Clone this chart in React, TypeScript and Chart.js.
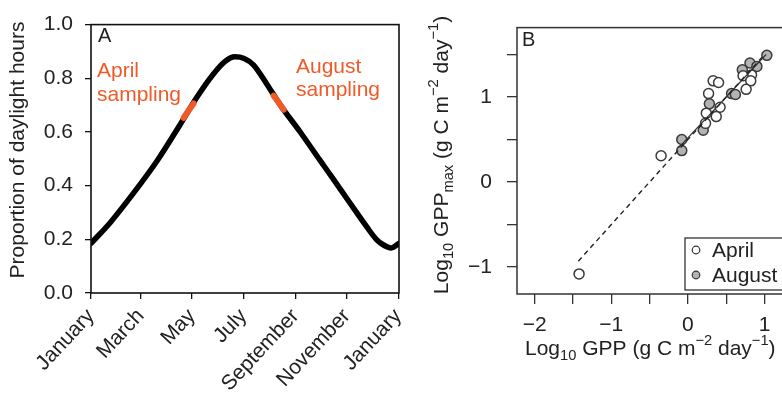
import React, { useEffect, useRef } from 'react';
import { Chart, registerables } from 'chart.js';

Chart.register(...registerables);

const FONT = '"Liberation Sans", Arial, Helvetica, sans-serif';
const ORANGE = '#F05A28';

// ---------- Panel A data ----------
const dayOfYear = [1, 24, 51, 79, 107, 127, 146, 160, 172, 183, 194, 210, 226, 250, 273, 289, 301, 313, 329, 340, 347, 353, 358, 367];
const daylightProportion = [0.185, 0.263, 0.37, 0.49, 0.628, 0.73, 0.814, 0.862, 0.88, 0.874, 0.85, 0.778, 0.7, 0.598, 0.495, 0.424, 0.37, 0.316, 0.245, 0.2, 0.182, 0.172, 0.168, 0.185];
const aprilSamplingDays = [111, 117, 123];
const aprilSamplingValues = [0.652, 0.68, 0.706];
const augustSamplingDays = [218, 224, 230];
const augustSamplingValues = [0.735, 0.71, 0.683];
const monthTickDays = [1, 60, 121, 182, 244, 305, 366];
const monthTickLabels = ['January', 'March', 'May', 'July', 'September', 'November', 'January'];
const yTicksA = [0, 0.2, 0.4, 0.6, 0.8, 1.0];

// ---------- Panel B data ----------
const aprilGPP = [-1.42, -0.35, 0.33, 0.4, 0.27, 0.42, 0.24, 0.37, 0.23, 0.83, 0.72, 0.82, 0.76];
const aprilGPPmax = [-1.08, 0.31, 1.19, 1.17, 1.04, 0.88, 0.81, 0.77, 0.69, 1.26, 1.25, 1.19, 1.09];
const augustGPP = [1.03, 0.81, 0.9, 0.71, 0.57, 0.62, 0.28, 0.2, -0.08, -0.08];
const augustGPPmax = [1.49, 1.4, 1.36, 1.32, 1.04, 1.03, 0.92, 0.61, 0.5, 0.37];
const dashedFitX = [-1.43, 0.98];
const dashedFitY = [-0.93, 1.48];
const solidFitX = [-0.12, 1.02];
const solidFitY = [0.405, 1.5];
const xTicksB = [-2, -1.5, -1, -0.5, 0, 0.5, 1];
const yTicksB = [-1, -0.5, 0, 0.5, 1, 1.5];

type Seg = { t: string; s?: 'sub' | 'sup' };

function drawRich(
  ctx: CanvasRenderingContext2D,
  segs: Seg[],
  x: number,
  y: number,
  size: number,
  align: 'center' | 'left',
  rotated: boolean,
  color: string
) {
  ctx.save();
  ctx.fillStyle = color;
  ctx.textBaseline = 'middle';
  ctx.textAlign = 'left';
  const small = size * 0.7;
  const widths = segs.map((s) => {
    ctx.font = `${s.s ? small : size}px ${FONT}`;
    return ctx.measureText(s.t).width;
  });
  const total = widths.reduce((a, b) => a + b, 0);
  ctx.translate(x, y);
  if (rotated) ctx.rotate(-Math.PI / 2);
  let cx = align === 'center' ? -total / 2 : 0;
  segs.forEach((s, i) => {
    ctx.font = `${s.s ? small : size}px ${FONT}`;
    const dy = s.s === 'sub' ? size * 0.32 : s.s === 'sup' ? -size * 0.4 : 0;
    ctx.fillText(s.t, cx, dy);
    cx += widths[i];
  });
  ctx.restore();
}

const minus = (v: number) => (v < 0 ? '\u2212' + Math.abs(v) : String(v));

function PanelA() {
  const ref = useRef<HTMLCanvasElement>(null);
  useEffect(() => {
    if (!ref.current) return;
    const framePlugin = {
      id: 'frameA',
      afterDraw(chart: any) {
        const { ctx, chartArea: a } = chart;
        ctx.save();
        ctx.strokeStyle = '#111';
        ctx.lineWidth = 1.6;
        ctx.strokeRect(a.left, a.top, a.right - a.left, a.bottom - a.top);
        ctx.fillStyle = '#222';
        ctx.font = `20px ${FONT}`;
        ctx.textBaseline = 'middle';
        ctx.textAlign = 'left';
        ctx.fillText('A', 98, 36);
        ctx.fillStyle = ORANGE;
        ctx.font = `21px ${FONT}`;
        ctx.textBaseline = 'alphabetic';
        ctx.fillText('April', 97, 77);
        ctx.fillText('sampling', 97, 101);
        ctx.fillText('August', 296, 73);
        ctx.fillText('sampling', 296, 96);
        ctx.restore();
        drawRich(ctx, [{ t: 'Proportion of daylight hours' }], 18, 150, 21, 'center', true, '#222');
      },
    };
    const chart = new Chart(ref.current, {
      type: 'line',
      data: {
        datasets: [
          {
            label: 'April sampling',
            data: aprilSamplingDays.map((d, i) => ({ x: d, y: aprilSamplingValues[i] })),
            borderColor: ORANGE,
            borderWidth: 6,
            pointRadius: 0,
            borderCapStyle: 'round',
          },
          {
            label: 'August sampling',
            data: augustSamplingDays.map((d, i) => ({ x: d, y: augustSamplingValues[i] })),
            borderColor: ORANGE,
            borderWidth: 6,
            pointRadius: 0,
            borderCapStyle: 'round',
          },
          {
            label: 'Daylight',
            data: dayOfYear.map((d, i) => ({ x: d, y: daylightProportion[i] })),
            borderColor: '#000',
            borderWidth: 5.5,
            pointRadius: 0,
            cubicInterpolationMode: 'monotone',
            borderCapStyle: 'round',
          },
        ],
      },
      options: {
        animation: false,
        responsive: false,
        devicePixelRatio: 1,
        layout: { padding: { left: 0, top: 15, right: 11, bottom: 0 } },
        plugins: { legend: { display: false }, tooltip: { enabled: false } },
        scales: {
          x: {
            type: 'linear',
            min: 1,
            max: 367,
            afterBuildTicks: (s: any) => {
              s.ticks = monthTickDays.map((v) => ({ value: v }));
            },
            afterFit: (s: any) => {
              s.height = 100;
              s.paddingLeft = 0;
              s.paddingRight = 0;
            },
            grid: { drawOnChartArea: false, drawTicks: true, tickLength: 6, color: '#111', lineWidth: 1.3 },
            border: { display: false },
            ticks: {
              autoSkip: false,
              maxRotation: 47,
              minRotation: 47,
              padding: 5,
              color: '#222',
              font: { family: FONT, size: 21 },
              callback: (_v: any, i: number) => monthTickLabels[i],
            },
          },
          y: {
            min: 0,
            max: 1,
            afterBuildTicks: (s: any) => {
              s.ticks = yTicksA.map((v) => ({ value: v }));
            },
            afterFit: (s: any) => {
              s.width = 91;
            },
            grid: { drawOnChartArea: false, drawTicks: true, tickLength: 6, color: '#111', lineWidth: 1.3 },
            border: { display: false },
            ticks: {
              padding: 12,
              color: '#222',
              font: { family: FONT, size: 21 },
              callback: (v: any) => Number(v).toFixed(1),
            },
          },
        },
      },
      plugins: [framePlugin],
    } as any);
    return () => chart.destroy();
  }, []);
  return <canvas ref={ref} width={410} height={393} style={{ position: 'absolute', left: 0, top: 0 }} />;
}

function PanelB() {
  const ref = useRef<HTMLCanvasElement>(null);
  useEffect(() => {
    if (!ref.current) return;
    const framePlugin = {
      id: 'frameB',
      afterDraw(chart: any) {
        const { ctx, chartArea: a } = chart;
        ctx.save();
        ctx.strokeStyle = '#333';
        ctx.lineWidth = 1.5;
        ctx.strokeRect(a.left, a.top, a.right - a.left, a.bottom - a.top);
        ctx.fillStyle = '#222';
        ctx.font = `20px ${FONT}`;
        ctx.textBaseline = 'middle';
        ctx.textAlign = 'left';
        ctx.fillText('B', 112, 40);
        // legend
        const lx = 275, ly = 238, lw = 98, lh = 52;
        ctx.fillStyle = '#fff';
        ctx.fillRect(lx, ly, lw, lh);
        ctx.strokeStyle = '#222';
        ctx.lineWidth = 1.2;
        ctx.strokeRect(lx, ly, lw, lh);
        const items = [chart.data.datasets[2], chart.data.datasets[3]];
        items.forEach((ds: any, i: number) => {
          const cy = ly + 12 + i * 25;
          ctx.beginPath();
          ctx.arc(lx + 11, cy, 3.8, 0, Math.PI * 2);
          ctx.fillStyle = ds.backgroundColor;
          ctx.fill();
          ctx.strokeStyle = '#333';
          ctx.lineWidth = 1.2;
          ctx.stroke();
          ctx.fillStyle = '#222';
          ctx.font = `21px ${FONT}`;
          ctx.textBaseline = 'middle';
          ctx.fillText(ds.label, lx + 27, cy + 1);
        });
        ctx.restore();
        drawRich(
          ctx,
          [{ t: 'Log' }, { t: '10', s: 'sub' }, { t: ' GPP (g C m' }, { t: '\u22122', s: 'sup' }, { t: ' day' }, { t: '\u22121', s: 'sup' }, { t: ')' }],
          115,
          349,
          21,
          'left',
          false,
          '#222'
        );
        drawRich(
          ctx,
          [
            { t: 'Log' },
            { t: '10', s: 'sub' },
            { t: ' GPP' },
            { t: 'max', s: 'sub' },
            { t: ' (g C m' },
            { t: '\u22122', s: 'sup' },
            { t: ' day' },
            { t: '\u22121', s: 'sup' },
            { t: ')' },
          ],
          32,
          155,
          21,
          'center',
          true,
          '#222'
        );
      },
    };
    const chart = new Chart(ref.current, {
      type: 'scatter',
      data: {
        datasets: [
          {
            label: 'fit dashed',
            data: dashedFitX.map((x, i) => ({ x, y: dashedFitY[i] })),
            showLine: true,
            borderColor: '#222',
            borderWidth: 1.4,
            borderDash: [5, 4],
            pointRadius: 0,
          },
          {
            label: 'fit solid',
            data: solidFitX.map((x, i) => ({ x, y: solidFitY[i] })),
            showLine: true,
            borderColor: '#333',
            borderWidth: 1.2,
            pointRadius: 0,
          },
          {
            label: 'April',
            data: aprilGPP.map((x, i) => ({ x, y: aprilGPPmax[i] })),
            backgroundColor: '#ffffff',
            borderColor: '#3a3a3a',
            borderWidth: 1.5,
            pointRadius: 5,
          },
          {
            label: 'August',
            data: augustGPP.map((x, i) => ({ x, y: augustGPPmax[i] })),
            backgroundColor: '#b3b3b3',
            borderColor: '#3a3a3a',
            borderWidth: 1.5,
            pointRadius: 5,
          },
        ],
      },
      options: {
        animation: false,
        responsive: false,
        devicePixelRatio: 1,
        layout: { padding: { left: 0, top: 21, right: 14, bottom: 0 } },
        plugins: { legend: { display: false }, tooltip: { enabled: false } },
        scales: {
          x: {
            type: 'linear',
            min: -2.23,
            max: 1.28,
            afterBuildTicks: (s: any) => {
              s.ticks = xTicksB.map((v) => ({ value: v }));
            },
            afterFit: (s: any) => {
              s.height = 99;
              s.paddingLeft = 0;
              s.paddingRight = 0;
            },
            grid: { drawOnChartArea: false, drawTicks: true, tickLength: 10, color: '#333', lineWidth: 1.3 },
            border: { display: false },
            ticks: {
              autoSkip: false,
              maxRotation: 0,
              minRotation: 0,
              padding: 9,
              color: '#222',
              font: { family: FONT, size: 21 },
              callback: (v: any) => (Number.isInteger(Number(v)) ? minus(Number(v)) : ''),
            },
          },
          y: {
            type: 'linear',
            min: -1.316,
            max: 1.816,
            afterBuildTicks: (s: any) => {
              s.ticks = yTicksB.map((v) => ({ value: v }));
            },
            afterFit: (s: any) => {
              s.width = 107;
            },
            grid: { drawOnChartArea: false, drawTicks: true, tickLength: 10, color: '#333', lineWidth: 1.3 },
            border: { display: false },
            ticks: {
              padding: 15,
              color: '#222',
              font: { family: FONT, size: 21 },
              callback: (v: any) => (Number.isInteger(Number(v)) ? minus(Number(v)) : ''),
            },
          },
        },
      },
      plugins: [framePlugin],
    } as any);
    return () => chart.destroy();
  }, []);
  return <canvas ref={ref} width={390} height={393} style={{ position: 'absolute', left: 410, top: 0 }} />;
}

export default function App() {
  useEffect(() => {
    document.body.style.margin = '0';
  }, []);
  return (
    <div style={{ position: 'relative', width: 782, height: 393, overflow: 'hidden', background: '#fff' }}>
      <PanelA />
      <PanelB />
    </div>
  );
}
